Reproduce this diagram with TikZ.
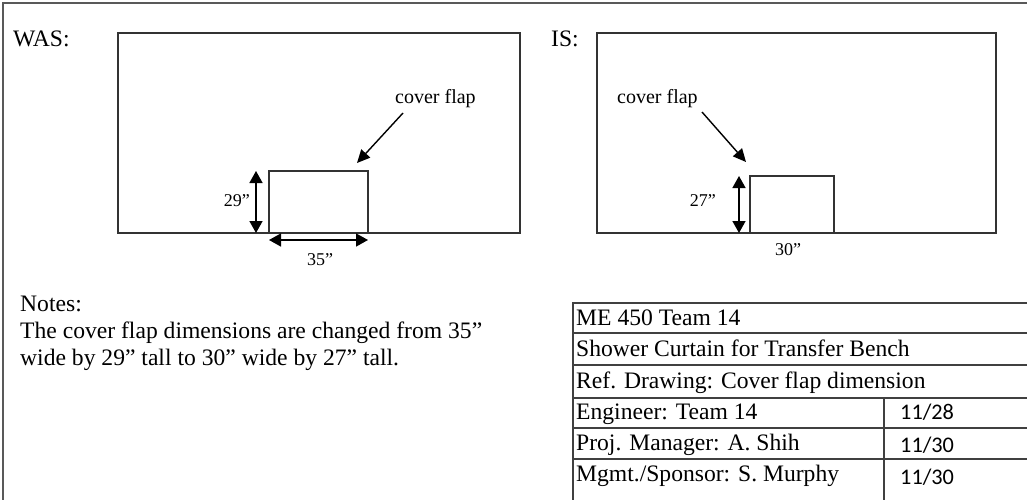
\documentclass[tikz,border=0pt]{standalone}
\usepackage{fontspec}
\setmainfont{Liberation Serif}
\newfontfamily\datefont{Carlito}
\usetikzlibrary{arrows.meta}
\begin{document}
\begin{tikzpicture}[x=1pt,y=-1pt,
  frame/.style={draw=black!65, line width=1.5pt},
  outline/.style={draw=black!80, line width=1.2pt},
  grid/.style={draw=black!75, line width=1.6pt},
  dimarrow/.style={line width=1.6pt, {Triangle[length=12pt,width=13pt]}-{Triangle[length=12pt,width=13pt]}},
  pointer/.style={line width=1.4pt, -{Triangle[length=13pt,width=12pt]}},
  heading/.style={font=\fontsize{23.6}{27}\selectfont, anchor=base west, inner sep=0pt},
  dimlabel/.style={font=\fontsize{18}{20}\selectfont, inner sep=0pt},
  calllabel/.style={font=\fontsize{20}{22}\selectfont, anchor=base west, inner sep=0pt},
  cell/.style={font=\fontsize{23.6}{26}\selectfont, anchor=base west, inner sep=0pt},
  datecell/.style={font=\datefont\fontsize{22.3}{26}\selectfont, anchor=base west, inner sep=0pt}]
\useasboundingbox (0,0) rectangle (1027,500);

% sheet border
\draw[frame] (3,500) -- (3,3) -- (1027,3);

% ---------- WAS view ----------
\node[heading] (was) at (13,47) {WAS:};
\draw[outline] (118,33) rectangle (520,233);
\draw[outline] (269,233) -- (269,171) -- (368,171) -- (368,233);
\coordinate (wasTop) at (256,171);
\coordinate (wasBot) at (256,233);
\draw[dimarrow] (wasTop) -- (wasBot);
\coordinate (wasL) at (269,240);
\coordinate (wasR) at (368,240);
\draw[dimarrow] (wasL) -- (wasR);
\node[dimlabel, anchor=base east] (wasH) at (250,206.5) {29”};
\node[dimlabel, anchor=base] (wasW) at (320,265) {35”};
\node[calllabel] (wasCall) at (395,103) {cover flap};
\coordinate (wasTip) at (357,163);
\coordinate (wasTail) at (403,113);
\draw[pointer] (wasTail) -- (wasTip);

% ---------- IS view ----------
\node[heading] (is) at (551,47) {IS:};
\draw[outline] (597,33) rectangle (996,233);
\draw[outline] (750,233) -- (750,176) -- (834,176) -- (834,233);
\coordinate (isTop) at (739,176);
\coordinate (isBot) at (739,233);
\draw[dimarrow] (isTop) -- (isBot);
\node[dimlabel, anchor=base east] (isH) at (716,206.5) {27”};
\node[dimlabel, anchor=base] (isW) at (788,255) {30”};
\node[calllabel] (isCall) at (617,103) {cover flap};
\coordinate (isTail) at (702,112);
\coordinate (isTip) at (746,162);
\draw[pointer] (isTail) -- (isTip);

% ---------- notes ----------
\node[heading] (notes) at (20,311) {Notes:};
\node[heading] (note1) at (20,338.5) {The cover flap dimensions are changed from 35”};
\node[heading] (note2) at (20,365.5) {wide by 29” tall to 30” wide by 27” tall.};

% ---------- title block ----------
\draw[grid] (573,500) -- (573,303) -- (1027,303);
\foreach \y in {333,365,398,428,459} \draw[grid] (573,\y) -- (1027,\y);
\draw[grid] (884,398) -- (884,500);
\node[cell] (t1) at (576,325) {ME 450 Team 14};
\node[cell] (t2) at (576,356) {Shower Curtain for Transfer Bench};
\node[cell] (t3) at (576,388) {Ref. Drawing: Cover flap dimension};
\node[cell] (t4) at (576,419) {Engineer: Team 14};
\node[cell] (t5) at (576,450.5) {Proj. Manager: A. Shih};
\node[cell] (t6) at (576,481.5) {Mgmt./Sponsor: S. Murphy};
\node[datecell] (d4) at (900,419) {11/28};
\node[datecell] (d5) at (900,452.5) {11/30};
\node[datecell] (d6) at (900,484.5) {11/30};
\end{tikzpicture}
\end{document}
